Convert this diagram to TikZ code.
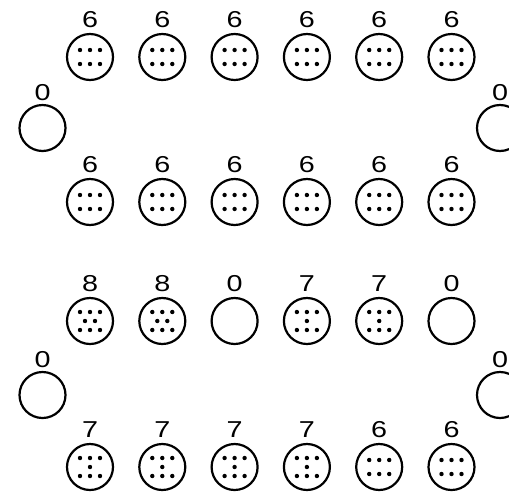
\documentclass[tikz,border=0pt]{standalone}
\usepackage{fontspec}
\setmainfont{Liberation Sans}
\newfontfamily\widedigits[FakeStretch=1.25]{Liberation Sans}
\def\patsix{-10/-7,0/-7,10/-7,-10/7,0/7,10/7}
\def\patseven{-10/-9,0/-9,10/-9,0/0,-10/9,0/9,10/9}
\def\pateight{-10/-9,0/-9,10/-9,-5/0,5/0,-10/9,0/9,10/9}
\def\patnone{}
\newcommand\mpit[6]{%
  \node[pit] (#1) at (#2,#3) {};
  \node[cnt] (#1l) at (#2,#3-#6) {#4};
  \foreach \dx/\dy in #5 {\fill[seed] ([shift={(\dx,\dy)}]#1.center) circle[radius=2.2pt];}
}
\begin{document}
\begin{tikzpicture}[x=1pt,y=-1pt,
  pit/.style={circle,draw,line width=2.2pt,minimum size=46pt,inner sep=0pt},
  cnt/.style={font=\widedigits\fontsize{23pt}{23pt}\selectfont,inner sep=0pt},
  seed/.style={fill=black}]
\useasboundingbox (0,0) rectangle (509,491);
% board 1
\mpit{a1}{90}{57}{6}{\patsix}{37}
\mpit{a2}{162.3}{57}{6}{\patsix}{37}
\mpit{a3}{234.6}{57}{6}{\patsix}{37}
\mpit{a4}{306.9}{57}{6}{\patsix}{37}
\mpit{a5}{379.2}{57}{6}{\patsix}{37}
\mpit{a6}{451.5}{57}{6}{\patsix}{37}
\mpit{as}{42.5}{128}{0}{\patnone}{35}
\mpit{at}{500}{128}{0}{\patnone}{35}
\mpit{b1}{90}{202}{6}{\patsix}{37}
\mpit{b2}{162.3}{202}{6}{\patsix}{37}
\mpit{b3}{234.6}{202}{6}{\patsix}{37}
\mpit{b4}{306.9}{202}{6}{\patsix}{37}
\mpit{b5}{379.2}{202}{6}{\patsix}{37}
\mpit{b6}{451.5}{202}{6}{\patsix}{37}
% board 2
\mpit{c1}{90}{321}{8}{\pateight}{37}
\mpit{c2}{162.3}{321}{8}{\pateight}{37}
\mpit{c3}{234.6}{321}{0}{\patnone}{37}
\mpit{c4}{306.9}{321}{7}{\patseven}{37}
\mpit{c5}{379.2}{321}{7}{\patseven}{37}
\mpit{c6}{451.5}{321}{0}{\patnone}{37}
\mpit{cs}{42.5}{395}{0}{\patnone}{35}
\mpit{ct}{500}{395}{0}{\patnone}{35}
\mpit{d1}{90}{467}{7}{\patseven}{37}
\mpit{d2}{162.3}{467}{7}{\patseven}{37}
\mpit{d3}{234.6}{467}{7}{\patseven}{37}
\mpit{d4}{306.9}{467}{7}{\patseven}{37}
\mpit{d5}{379.2}{467}{6}{\patsix}{37}
\mpit{d6}{451.5}{467}{6}{\patsix}{37}
\end{tikzpicture}
\end{document}
